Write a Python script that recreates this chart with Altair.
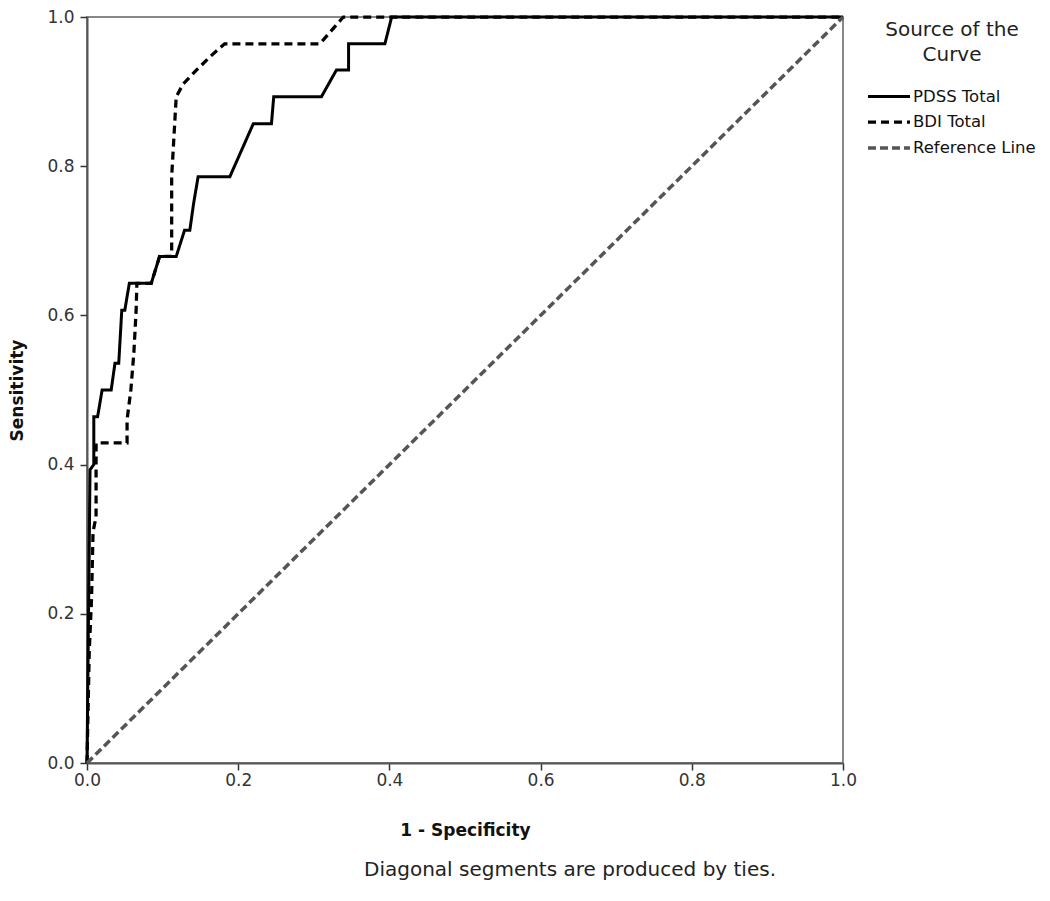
import altair as alt
import pandas as pd

# ---- data ----
series_names = ["PDSS Total", "BDI Total", "Reference Line"]

pdss_x = [0.0, 0.002, 0.004, 0.009, 0.009, 0.014, 0.020, 0.032, 0.037, 0.042,
          0.046, 0.050, 0.056, 0.085, 0.096, 0.118, 0.129, 0.136, 0.141, 0.147,
          0.189, 0.220, 0.244, 0.247, 0.310, 0.330, 0.346, 0.346, 0.394, 0.403, 1.0]
pdss_y = [0.0, 0.200, 0.393, 0.400, 0.464, 0.464, 0.500, 0.500, 0.536, 0.536,
          0.607, 0.607, 0.643, 0.643, 0.679, 0.679, 0.714, 0.714, 0.750, 0.786,
          0.786, 0.857, 0.857, 0.893, 0.893, 0.929, 0.929, 0.964, 0.964, 1.0, 1.0]

bdi_x = [0.0, 0.003, 0.006, 0.008, 0.012, 0.012, 0.053, 0.053, 0.058, 0.062,
         0.065, 0.066, 0.085, 0.096, 0.112, 0.112, 0.116, 0.118, 0.127, 0.145,
         0.163, 0.182, 0.308, 0.339, 1.0]
bdi_y = [0.0, 0.150, 0.220, 0.310, 0.330, 0.429, 0.429, 0.460, 0.500, 0.550,
         0.607, 0.643, 0.643, 0.679, 0.679, 0.786, 0.857, 0.893, 0.910, 0.929,
         0.947, 0.964, 0.964, 1.0, 1.0]

ref_x = [0.0, 1.0]
ref_y = [0.0, 1.0]

tick_values = [0.0, 0.2, 0.4, 0.6, 0.8, 1.0]
footnote = "Diagonal segments are produced by ties."

rows = []
for name, xs, ys in [(series_names[0], pdss_x, pdss_y),
                     (series_names[1], bdi_x, bdi_y),
                     (series_names[2], ref_x, ref_y)]:
    for i, (a, b) in enumerate(zip(xs, ys)):
        rows.append({"series": name, "fpr": a, "tpr": b, "idx": i})
df = pd.DataFrame(rows)

FONT = "DejaVu Sans"

legend = alt.Legend(
    title=["Source of the", "Curve"],
    orient="none", legendX=781, legendY=3,
    titleFont=FONT, titleFontSize=20, titleFontWeight="normal",
    titleColor="#222", titleAlign="center", titleAnchor="middle",
    titleLineHeight=25, titlePadding=23, titleLimit=400,
    labelFont=FONT, labelFontSize=16.5, labelColor="#111", labelLimit=300,
    symbolType="M-3,0H3", symbolSize=196, symbolOffset=12, labelOffset=15,
    rowPadding=8,
)

sc_dash = alt.Scale(domain=series_names, range=[[1, 0], [8, 5], [8, 4]])
sc_width = alt.Scale(domain=series_names, range=[3, 3.5, 1.0])
sc_color = alt.Scale(domain=series_names, range=["#000000", "#000000", "#555555"])

lines = alt.Chart(df).mark_line().encode(
    x=alt.X("fpr:Q", scale=alt.Scale(domain=[0, 1], nice=False),
            axis=alt.Axis(values=tick_values, format=".1f", title="1 - Specificity",
                          titlePadding=34, labelPadding=2)),
    y=alt.Y("tpr:Q", scale=alt.Scale(domain=[0, 1], nice=False),
            axis=alt.Axis(values=tick_values, format=".1f", title="Sensitivity",
                          titlePadding=20, labelPadding=6)),
    color=alt.Color("series:N", scale=sc_color, legend=legend),
    strokeDash=alt.StrokeDash("series:N", scale=sc_dash, legend=legend),
    strokeWidth=alt.StrokeWidth("series:N", scale=sc_width, legend=legend),
    order=alt.Order("idx:Q"),
)

note = alt.Chart(alt.Data(values=[{"t": footnote}])).mark_text(
    font=FONT, fontSize=20, color="#222", align="center", baseline="middle"
).encode(text="t:N", x=alt.value(483), y=alt.value(853))

chart = alt.layer(lines, note).properties(
    width=756, height=746,
    autosize=alt.AutoSizeParams(type="none"),
    padding={"left": 79, "top": 9, "right": 199, "bottom": 125},
).configure_view(
    stroke="#888888", strokeWidth=2
).configure_axis(
    grid=False, domainColor="#555555", domainWidth=2,
    tickColor="#333333", tickWidth=1.5, tickSize=7,
    labelFont=FONT, labelFontSize=17, labelColor="#333333", labelFlush=False,
    titleFont=FONT, titleFontSize=17, titleFontWeight="bold", titleColor="#111111",
)

chart.save("out.html", embed_options={"renderer": "svg", "actions": False})
